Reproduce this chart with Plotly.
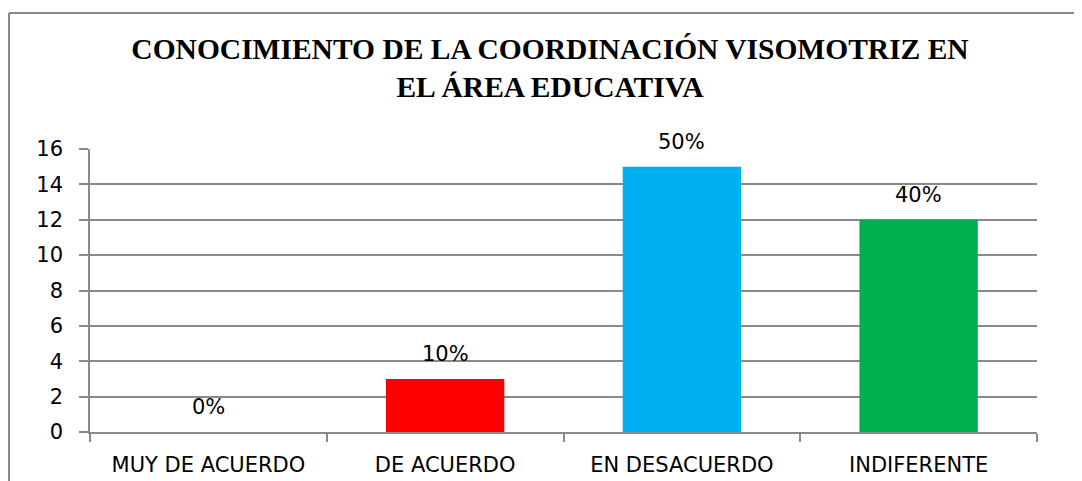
import plotly.graph_objects as go

categories = ["MUY DE ACUERDO", "DE ACUERDO", "EN DESACUERDO", "INDIFERENTE"]
values = [0, 3, 15, 12]
pct_labels = ["0%", "10%", "50%", "40%"]
bar_colors = ["#4F81BD", "#FF0000", "#00B0F0", "#00B050"]
y_ticks = [0, 2, 4, 6, 8, 10, 12, 14, 16]

# page is offset by the 8px body margin
OFF = 8
W, H = 1082, 481
ml, mr, mt, mb = 90 - OFF, W - (1037 - OFF), 149 - OFF, H - (432 - OFF)
pw, ph = W - ml - mr, H - mt - mb

TXT = dict(family="DejaVu Sans", size=21, color="#000000")
GRID = "#8a8a8a"

fig = go.Figure()
fig.add_trace(go.Bar(x=categories, y=values, marker=dict(color=bar_colors, line=dict(width=0)),
                     width=0.5, hoverinfo="skip"))

for c, v, t in zip(categories, values, pct_labels):
    fig.add_annotation(x=c, y=v, text=t, showarrow=False, xref="x", yref="y",
                       yanchor="bottom", yshift=11, font=TXT)

# outer chart border (top and left edges visible; right/bottom cut off)
def px_x(p):
    return (p - ml) / pw

def px_y(p):
    return ((H - mb) - p) / ph

bx, by = 1, 5
fig.add_shape(type="line", xref="paper", yref="paper",
              x0=px_x(bx), x1=px_x(W + 30), y0=px_y(by), y1=px_y(by),
              line=dict(color="#8a8a8a", width=2), layer="below")
fig.add_shape(type="line", xref="paper", yref="paper",
              x0=px_x(bx), x1=px_x(bx), y0=px_y(by), y1=px_y(H + 30),
              line=dict(color="#8a8a8a", width=2), layer="below")

fig.update_layout(
    width=W, height=H,
    margin=dict(l=ml, r=mr, t=mt, b=mb, pad=0, autoexpand=False),
    paper_bgcolor="white", plot_bgcolor="white",
    showlegend=False,
    title=dict(text="CONOCIMIENTO DE LA COORDINACIÓN VISOMOTRIZ EN<br>EL ÁREA EDUCATIVA",
               x=(550 - OFF) / W, xanchor="center", y=1 - 51 / H, yanchor="middle",
               xref="container", yref="container",
               font=dict(family="Liberation Serif, Times New Roman, serif", size=29.5,
                         color="#000000", weight="bold")),
    bargap=0.5,
)
fig.update_xaxes(type="category", showgrid=False, showline=True, linecolor=GRID, linewidth=1.5,
                 ticks="outside", tickson="boundaries", ticklen=8, tickcolor=GRID, tickwidth=1.5,
                 tickfont=TXT, ticklabelstandoff=13, range=[-0.5, 3.5], automargin=False)
fig.update_yaxes(range=[0, 16], tickvals=y_ticks, showgrid=True, gridcolor=GRID, gridwidth=1.5,
                 showline=True, linecolor=GRID, linewidth=1.5, zeroline=False,
                 ticks="outside", ticklen=9, tickcolor=GRID, tickwidth=1.5,
                 tickfont=TXT, ticklabelstandoff=12, automargin=False)

fig.write_html("out.html")
